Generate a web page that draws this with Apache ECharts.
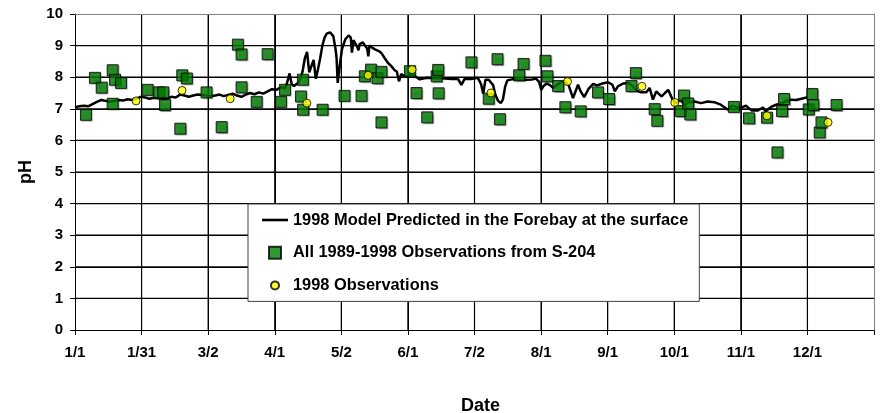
<!DOCTYPE html>
<html>
<head>
<meta charset="utf-8">
<script src="https://cdn.jsdelivr.net/npm/echarts@6/dist/echarts.min.js"></script>
<style>
html,body{margin:0;padding:0;background:#fff;}
#chart{width:880px;height:413px;}
</style>
</head>
<body>
<div id="chart"></div>
<script>
// Tick labels along the date axis (day-of-year axis 0..365, 12 intervals)
var tickLabels = ['1/1','1/31','3/2','4/1','5/2','6/1','7/2','8/1','9/1','10/1','11/1','12/1',''];
// pH gridline values
var pHTicks = [1,2,3,4,5,6,7,8,9];

// 1998 Model Predicted in the Forebay at the surface (day of year, pH)
var modelDays = [0,2,4,6,8,10,12,14,16,18,20,22,24,26,28,30,32,34,36,38,40,42,44,46,48,50,52,54,56,58,60,62,64,66,68,70,72,74,76,78,80,82,84,86,88,90,92,94,96,97,98,99,100,102,103,
104,105,106,107,107.5,108,109,110,111,112,113,114,115,116.5,118,119,119.5,120,121,122,123.5,125,126,126.5,127.2,128,129,129.5,130,131.5,132.5,133.5,134,134.5,135.5,137,139,140,141.5,143,144.5,146,147,148,149,150,151.5,153,154.5,156,157.5,159,161,163.5,166,169,172,175,176.5,178,181,184,185.5,186.5,187.5,189,191,192,193.3,194.5,195.5,196.5,197.5,200,203,206,209,210.5,212,213,214,215.5,217,218.5,220,221.5,223.5,225.5,227.5,229.8,231,232.6,234.5,236.7,238.5,241,243.5,245.5,246.6,248,250.4,253,255,256.5,258.5,261,262.5,264,265.5,268,269.5,271,273,274.7,276.5,278.5,280,283,286,289,292,295,298.3,300,302,304.4,306.5,309,312,314.3,315.5,318,320,322.7,325,327.2,329.5,331.8,334.8];
var modelPH = [7.05,7.08,7.10,7.08,7.15,7.22,7.28,7.25,7.22,7.25,7.28,7.26,7.30,7.28,7.32,7.38,7.36,7.32,7.35,7.33,7.30,7.32,7.38,7.36,7.45,7.42,7.38,7.42,7.45,7.44,7.42,7.40,7.42,7.45,7.40,7.44,7.48,7.42,7.38,7.45,7.50,7.46,7.52,7.48,7.55,7.62,7.60,7.68,7.65,7.85,8.12,7.78,7.72,7.82,7.95,
8.20,8.60,8.80,8.15,8.10,8.35,8.55,7.95,8.25,8.60,9.00,9.25,9.38,9.42,9.30,8.90,8.60,7.82,8.40,8.90,9.20,9.32,9.25,8.78,9.17,9.12,8.95,8.85,9.05,9.10,9.00,8.90,8.66,9.00,8.95,8.88,8.82,8.76,8.60,8.45,8.35,8.22,8.18,7.87,8.10,8.05,8.02,8.08,8.08,8.00,7.93,7.96,7.98,7.97,7.97,7.96,7.94,7.94,7.76,7.95,7.94,7.98,7.78,7.48,7.92,7.92,7.75,7.45,7.25,7.18,7.30,7.70,7.90,7.94,7.92,7.92,7.93,7.96,7.85,7.60,7.72,7.80,7.75,7.66,7.75,7.82,7.87,7.75,7.34,7.76,7.55,7.37,7.62,7.79,7.74,7.80,7.84,7.76,7.55,7.71,7.80,7.82,7.70,7.58,7.52,7.52,7.66,7.29,7.55,7.39,7.50,7.60,7.29,7.18,7.29,7.13,7.20,7.23,7.18,7.23,7.21,7.13,6.97,7.10,7.06,7.04,7.10,6.95,6.95,7.04,6.92,7.06,7.12,7.18,7.24,7.29,7.28,7.32,7.37];

// All 1989-1998 Observations from S-204 (day of year, pH)
var obsDays = [5.0,9.1,12.2,17.2,18.3,21,17.2,33.2,38.4,40.3,41.1,48.1,49,51.1,60.1,67,74.4,76.1,76.1,83,88,94.1,95.9,103.2,104.1,104.2,113.1,123.1,130.9,132.4,135.2,138.2,140,140,153,156,160.9,165.2,165.9,166.1,181.1,189,193,194.1,202.9,204.9,214.9,215.8,220.7,224,231,238.9,244,254.2,256.2,264.8,266,276.7,278.2,280.1,281.1,301,307.9,316.1,320.9,323,323.9,335.2,336.8,337.3,340.2,341,347.9];
var obsPH = [6.81,7.98,7.67,8.22,7.92,7.82,7.16,7.60,7.52,7.52,7.12,6.37,8.06,7.96,7.52,6.42,9.03,8.72,7.68,7.22,8.73,7.22,7.60,7.39,7.92,6.97,6.97,7.41,7.41,8.03,8.24,7.97,8.17,6.57,8.19,7.50,6.73,8.03,8.23,7.49,8.47,7.32,8.57,6.67,8.06,8.42,8.52,8.03,7.72,7.05,6.92,7.52,7.31,7.72,8.13,6.99,6.62,6.93,7.42,7.17,6.82,7.06,6.70,6.72,5.62,6.93,7.31,6.98,7.47,7.12,6.25,6.57,7.12];

// 1998 Observations (day of year, pH)
var obs98Days = [27.9,48.9,70.9,105.9,133.9,154,190,225,259,274,316.1,344];
var obs98PH = [7.25,7.58,7.32,7.18,8.06,8.24,7.50,7.86,7.71,7.20,6.78,6.57];

var seriesNames = [
  '1998 Model Predicted in the Forebay at the surface',
  'All 1989-1998 Observations from S-204',
  '1998 Observations'
];

function pairs(xs, ys){ var out=[]; for(var i=0;i<xs.length;i++){ out.push([xs[i], ys[i]]); } return out; }

var FONT = "'Liberation Sans', Arial, sans-serif";
var step = 365/12;
var X_MAX = 365, Y_MAX = 10;

// Gridlines drawn as plain line series through the axes' scales (at the tick values)
var gridSeries = [];
function gridLine(data){
  gridSeries.push({
    name: 'grid', type: 'line', data: data, silent: true, z: 3,
    symbol: 'none', showSymbol: false, animation: false,
    lineStyle: { color: '#000000', width: 1.2, opacity: 1 }, emphasis: { disabled: true }, tooltip: { show: false }
  });
}
for (var i = 1; i < tickLabels.length - 1; i++) { gridLine([[i * step, 0], [i * step, Y_MAX]]); }
for (var j = 0; j < pHTicks.length; j++) { gridLine([[0, pHTicks[j]], [X_MAX, pHTicks[j]]]); }

var mainSeries = [
  {
    name: seriesNames[0], type: 'line', data: pairs(modelDays, modelPH),
    showSymbol: false, symbol: 'none', smooth: false,
    lineStyle: { color: '#000', width: 2.5 }, itemStyle: { color: '#000' }, z: 3
  },
  {
    name: seriesNames[1], type: 'scatter', data: pairs(obsDays, obsPH),
    symbol: 'rect', symbolSize: 11,
    itemStyle: { color: '#008000', borderColor: '#000', borderWidth: 1,
                 shadowColor: 'rgba(0,0,0,0.35)', shadowOffsetX: 1, shadowOffsetY: 1, shadowBlur: 1 },
    z: 4
  },
  {
    name: seriesNames[2], type: 'scatter', data: pairs(obs98Days, obs98PH),
    symbol: 'circle', symbolSize: 8,
    itemStyle: { color: '#ffff00', borderColor: '#000', borderWidth: 1 },
    z: 5
  }
];

var chart = echarts.init(document.getElementById('chart'), null, {renderer:'canvas'});
chart.setOption({
  animation: false,
  grid: { left: 75, right: 6, top: 14, bottom: 83, outerBoundsMode: 'none', containLabel: false },
  legend: {
    orient: 'vertical',
    left: 248, top: 204, z: 10,
    padding: [8, 11, 8, 14],
    itemWidth: 26, itemHeight: 14, itemGap: 16.7,
    backgroundColor: '#ffffff',
    borderColor: '#404040', borderWidth: 1,
    textStyle: { fontFamily: FONT, fontWeight: 'bold', fontSize: 16.4, color: '#000', lineHeight: 16 },
    data: [
      { name: seriesNames[0], icon: 'path://M0,0 M26,14 M0,5.6 L28,5.6 L28,8.4 L0,8.4 Z' },
      { name: seriesNames[1], icon: 'path://M0,0 M14,14 M1,1 L13,1 L13,13 L1,13 Z' },
      { name: seriesNames[2], icon: 'path://M0,0 M14,14 M11,7 A4,4 0 1 1 3,7 A4,4 0 1 1 11,7 Z' }
    ]
  },
  xAxis: [{
    type: 'value', min: 0, max: X_MAX, interval: step, position: 'bottom',
    name: 'Date', nameLocation: 'middle', nameGap: 67,
    nameTextStyle: { fontFamily: FONT, fontWeight: 'bold', fontSize: 18, color: '#000', padding: [0, 0, 0, 12] },
    axisLine: { show: true, onZero: false, lineStyle: { color: '#000000', width: 1 } },
    axisTick: { show: true, inside: false, length: 5, lineStyle: { color: '#000000', width: 1 } },
    axisLabel: {
      show: true, margin: 15, fontFamily: FONT, fontWeight: 'bold', fontSize: 15, color: '#000',
      formatter: function(v){ var i = Math.round(v/step); return tickLabels[i] || ''; }
    },
    splitLine: { show: true, lineStyle: { color: '#000000', width: 1 } }
  }, {
    type: 'value', min: 0, max: X_MAX, interval: step, position: 'top', z: 6,
    axisLine: { show: true, onZero: false, lineStyle: { color: '#808080', width: 1 } },
    axisTick: { show: false }, axisLabel: { show: false }, splitLine: { show: false }
  }],
  yAxis: [{
    type: 'value', min: 0, max: Y_MAX, interval: 1, position: 'left',
    name: 'pH', nameLocation: 'middle', nameGap: 40, nameRotate: 90,
    nameTextStyle: { fontFamily: FONT, fontWeight: 'bold', fontSize: 18, color: '#000' },
    axisLine: { show: true, onZero: false, lineStyle: { color: '#000000', width: 1 } },
    axisTick: { show: true, inside: false, length: 5, lineStyle: { color: '#000000', width: 1 } },
    axisLabel: { show: true, margin: 12, fontFamily: FONT, fontWeight: 'bold', fontSize: 15, color: '#000' },
    splitLine: { show: true, lineStyle: { color: '#000000', width: 1 } }
  }, {
    type: 'value', min: 0, max: Y_MAX, interval: 1, position: 'right', z: 6,
    axisLine: { show: true, onZero: false, lineStyle: { color: '#808080', width: 1 } },
    axisTick: { show: false }, axisLabel: { show: false }, splitLine: { show: false }
  }],
  series: gridSeries.concat(mainSeries)
});
</script>
</body>
</html>
